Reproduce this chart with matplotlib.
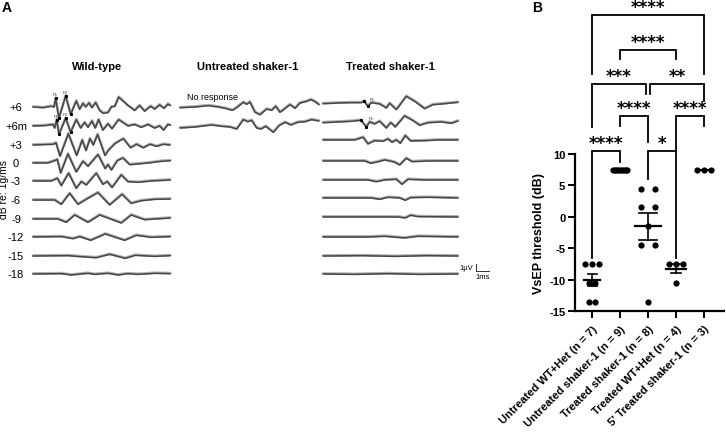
import numpy as np
import matplotlib
matplotlib.use("Agg")
import matplotlib.pyplot as plt

plt.rcParams['font.family'] = ['Liberation Sans', 'DejaVu Sans']
plt.rcParams['axes.unicode_minus'] = False

# ---------------- panel A data: VsEP waveforms (ms, uV) ----------------
levels = ["+6", "+6m", "+3", "0", "-3", "-6", "-9", "-12", "-15", "-18"]

wt_t = [
    [0, 0.77, 1.41, 1.62, 1.74, 2.0, 2.51, 2.9, 3.33, 3.59, 3.85, 4.05, 4.31, 4.54, 4.82, 5.13, 5.4, 5.77, 6.03, 6.3, 6.59, 7.31, 7.82, 8.2, 8.59, 9.05, 9.36, 9.74, 10.08, 10.38, 10.56],
    [0, 0.9, 1.54, 1.67, 1.82, 2.0, 2.51, 2.9, 3.33, 3.67, 3.97, 4.23, 4.54, 4.79, 5.05, 5.38, 5.77, 6.08, 6.59, 7.31, 7.82, 8.33, 8.85, 9.36, 9.74, 10.05, 10.38, 10.56],
    [0, 0.79, 1.56, 1.77, 2.08, 2.72, 3.36, 3.79, 4.08, 4.38, 4.64, 4.97, 5.54, 5.79, 6.31, 6.95, 7.51, 7.97, 8.49, 9.0, 9.51, 10.03, 10.54],
    [0, 1.15, 1.67, 1.87, 2.13, 2.69, 3.33, 3.85, 4.23, 5.0, 5.56, 5.77, 6.03, 6.49, 6.92, 7.44, 8.08, 8.85, 9.87, 10.56],
    [0, 1.41, 1.87, 2.18, 2.74, 3.33, 3.72, 4.1, 4.87, 5.38, 5.72, 6.08, 6.79, 7.31, 8.08, 9.1, 10.56],
    [0, 1.67, 2.18, 2.82, 3.46, 4.1, 5.0, 5.9, 6.85, 7.56, 8.33, 9.36, 10.56],
    [0, 1.92, 2.56, 3.21, 4.23, 5.13, 6.79, 7.56, 8.59, 10.56],
    [0, 2.18, 3.08, 3.59, 4.44, 5.56, 7.05, 7.95, 9.1, 10.56],
    [0, 2.69, 3.72, 4.87, 5.9, 7.1, 7.87, 9.36, 10.56],
    [0, 2.18, 2.95, 4.23, 4.74, 5.77, 6.54, 7.31, 8.08, 9.36, 10.56],
]
wt_v = [
    [0, -0.1, 0.1, 0.0, 1.24, -1.62, 1.57, -1.05, 0.86, -0.33, 0.52, 0.0, 0.57, -0.1, 0.62, -0.5, -0.9, -0.8, 0.0, 0.1, 1.4, 0.2, -0.5, 0.2, -0.6, 0.1, -0.3, 0.3, -0.2, 0.4, 0.2],
    [0, 0.05, 0.2, -0.3, 0.9, -1.2, 1.1, -0.9, 0.9, -0.3, 0.5, -0.2, 0.7, -0.3, 0.9, -0.6, 0.3, -0.4, 0.9, 0.0, 0.2, -0.2, 0.2, -0.3, 0.0, -0.6, 0.2, 0.1],
    [0, 0.05, 0.1, 0.3, -1.6, 1.6, -1.5, 0.7, -0.8, 0.9, 0.0, 1.5, -1.5, -0.8, 0.2, 0.9, -0.4, 0.1, -0.4, 0.1, -0.2, 0.1, 0.0],
    [0, 0, 0.33, 0.5, -1.43, 1.29, -1.29, 0.24, -0.48, 1.19, -0.81, -0.24, -1.0, 0.33, 0.71, -0.24, -0.14, 0, 0.24, 0.33],
    [0, 0, 0.38, -0.67, 1.1, -1.05, -0.1, -0.57, 1.1, -0.48, -0.1, -0.95, 0.86, -0.1, -0.19, 0, 0.14],
    [0, 0, -0.62, 0.95, -0.62, 0.1, 1.05, -0.71, 0.81, -0.48, -0.1, 0.1, 0.14],
    [0, 0, -0.48, 0.57, -0.48, 0.57, -0.57, 0.57, -0.1, 0.14],
    [0, 0.05, -0.24, 0.05, -0.48, 0.43, -0.48, 0.24, -0.05, 0.05],
    [0, 0.05, -0.1, -0.24, 0.24, -0.33, 0.1, -0.05, 0.05],
    [0, 0.05, -0.14, 0.1, -0.05, 0.1, -0.14, 0.05, -0.05, 0.1, 0.05],
]

un_t = [
    [0, 1.15, 2.18, 2.95, 3.46, 4.03, 4.36, 4.87, 5.13, 5.38, 5.77, 6.15, 6.67, 7.05, 7.36, 7.69, 8.03, 8.46, 8.85, 9.23, 9.67, 10.08, 10.38, 10.69],
    [0, 1.15, 2.44, 3.21, 3.85, 4.36, 4.87, 5.21, 5.51, 5.9, 6.23, 6.59, 6.92, 7.18, 7.62, 8.08, 8.54, 9.05, 9.62, 10.13, 10.69],
]
un_v = [
    [-0.1, 0, 0.19, 0, -0.19, -0.48, -0.1, 0.67, 0.38, 0.71, -0.76, -1.1, -0.29, -0.48, 0.1, -0.76, -0.29, 0.33, -0.19, 0.57, 0.76, 1.05, 0.76, 0.33],
    [-0.14, 0, 0.29, 0.1, 0, -0.29, 1.05, 0.76, 0.95, -0.14, -0.29, 0.1, -0.38, -0.76, 0.19, 0.67, 0.29, 0.67, 0.76, 1.05, 0.86],
]

tr_t = [
    [0, 1.15, 2.18, 2.95, 3.15, 3.46, 3.72, 4.36, 4.87, 5.13, 5.64, 6.41, 7.05, 7.82, 8.46, 9.36, 10.38],
    [0, 1.15, 2.18, 2.9, 3.33, 3.59, 3.97, 4.36, 4.87, 5.21, 5.56, 6.28, 6.92, 7.44, 8.08, 9.1, 9.87, 10.38],
    [0, 2.44, 3.08, 3.46, 3.97, 4.62, 5.0, 5.31, 5.64, 5.95, 6.33, 6.74, 7.82, 8.85, 10.38],
    [0, 3.21, 3.67, 4.18, 4.74, 5.46, 5.9, 6.41, 6.85, 8.08, 10.38],
    [0, 3.46, 4.1, 4.74, 5.64, 6.08, 6.54, 7.82, 10.38],
    [0, 3.72, 4.36, 5.0, 5.9, 6.33, 6.74, 8.08, 10.38],
    [0, 5.77, 6.33, 6.74, 7.31, 10.38],
    [0, 3.46, 4.74, 6.28, 7.31, 10.38],
    [0, 3.0, 5.5, 8.0, 10.38],
    [0, 2.5, 5.0, 7.5, 10.38],
]
tr_v = [
    [-0.1, 0, 0.05, 0.05, 0.24, -0.48, 0.05, -0.14, -0.71, -0.05, -0.95, 0.95, 0.24, -0.81, -0.24, -0.1, 0.1],
    [-0.1, 0, 0.1, 0.24, -0.71, 0, -0.29, 0.1, -0.86, -0.1, -0.71, 0.86, 0.19, -0.48, -0.1, 0, -0.19, 0.14],
    [0, 0, 0.38, -0.57, -0.1, -0.19, 0.14, -0.33, 0, -0.48, 0.62, -0.14, -0.1, 0, 0],
    [0, 0, -0.33, -0.14, 0.14, -0.14, -0.57, 0.38, -0.1, 0, 0],
    [0, 0, -0.24, 0, 0.1, -0.62, 0.1, 0, 0],
    [0, 0, -0.19, 0.1, 0, -0.33, 0.05, 0.1, 0],
    [0, 0, -0.14, 0.24, 0.05, 0],
    [0, 0, 0.1, -0.14, 0.1, 0],
    [0, 0.05, -0.05, 0.05, 0],
    [0, -0.05, 0.05, -0.05, 0],
]

# peak markers (ms) on the top two traces
wt_marks = [[1.74, 2.0, 2.51, 2.9], [1.82, 2.0, 2.51, 2.9]]
tr_marks = [[3.15, 3.46], [2.9, 3.33]]

# ---------------- panel B data: thresholds (dB) ----------------
groups = ["Untreated WT+Het (n = 7)", "Untreated shaker-1 (n = 9)",
          "Treated shaker-1 (n = 8)", "Treated WT+Het (n = 4)",
          "5' Treated shaker-1 (n = 3)"]
thresholds = [
    [-7.5, -7.5, -7.5, -10.5, -10.5, -13.5, -13.5],
    [7.5, 7.5, 7.5, 7.5, 7.5, 7.5, 7.5, 7.5, 7.5],
    [4.5, 4.5, 1.5, 1.5, -1.5, -4.5, -4.5, -13.5],
    [-7.5, -7.5, -7.5, -10.5],
    [7.5, 7.5, 7.5],
]
# (group a, group b, significance)
comparisons = [(0, 1, "****"), (2, 3, "*"), (1, 2, "****"), (3, 4, "****"),
               (0, 2, "***"), (2, 4, "**"), (1, 3, "****"), (0, 4, "****")]

# ---------------- layout ----------------
W, H = 726, 435
fig = plt.figure(figsize=(W / 100, H / 100), dpi=100)

# panel A: one axes over the figure, 13 px per ms and 7 px per uV
axA = fig.add_axes([0, 0, 1, 1])
axA.set_xlim(-33 / 13, (W - 33) / 13)
axA.set_ylim((108 - H) / 7, 108 / 7)
axA.axis('off')

col_x = [0.0, 11.31, 22.31]
wt_rows = [0, -2.71, -5.43, -8.0, -10.57, -13.29, -16.0, -18.57, -21.29, -23.86]
un_rows = [0, -2.86]
tr_rows = [0.57, -2.14, -4.71, -7.71, -10.43, -13.0, -15.71, -18.57, -21.29, -23.86]
LIGHT, DARK = '#b0b0b0', '#454545'


def draw_traces(ts, vs, x0, rows):
    for t, v, r in zip(ts, vs, rows):
        t = np.array(t) + x0
        v = np.array(v) + r
        axA.plot(t, v + 0.08, color=LIGHT, lw=1.9, solid_joinstyle='round', solid_capstyle='round')
        axA.plot(t, v, color=DARK, lw=1.1, solid_joinstyle='round', solid_capstyle='round')


draw_traces(wt_t, wt_v, col_x[0], wt_rows)
draw_traces(un_t, un_v, col_x[1], un_rows)
draw_traces(tr_t, tr_v, col_x[2], tr_rows)

for marks, ts, vs, x0, rows in [(wt_marks, wt_t, wt_v, col_x[0], wt_rows),
                                 (tr_marks, tr_t, tr_v, col_x[2], tr_rows)]:
    for k, m in enumerate(marks):
        mv = np.interp(m, ts[k], vs[k]) + rows[k]
        axA.plot(np.array(m) + x0, mv, 's', color='black', ms=1.2, zorder=5)
        if len(m) == 4:
            axA.text(m[0] + x0, mv[0] + 0.45, "P1", fontsize=3, ha='center', color='#333333')
            axA.text(m[2] + x0, mv[2] + 0.45, "P2", fontsize=3, ha='center', color='#333333')
        else:
            axA.text(m[1] + x0 + 0.15, mv[0] + 0.2, "P1", fontsize=3, ha='left', color='#333333')

for lab, r in zip(levels, wt_rows):
    axA.text(-1.31, r, lab, fontsize=8, ha='center', va='center')

axA.text(-2.25, -11.6, "dB re: 1g/ms", rotation=90, fontsize=7.5, ha='center', va='center')

title_y = 5.86
axA.text(4.96, title_y, "Wild-type", fontsize=8, fontweight='bold', ha='center', va='center')
axA.text(16.54, title_y, "Untreated shaker-1", fontsize=8, fontweight='bold', ha='center', va='center')
axA.text(27.46, title_y, "Treated shaker-1", fontsize=8, fontweight='bold', ha='center', va='center')
axA.text(11.85, 1.43, "No response", fontsize=6.5, ha='left', va='center')

# scale bar 1 uV / 1 ms
sx, sy = 34.08, -23.43
axA.plot([sx, sx, sx + 1], [sy + 1, sy, sy], color='#333333', lw=0.7)
axA.text(sx - 0.25, sy + 0.55, "1μV", fontsize=5.5, ha='right', va='center')
axA.text(sx + 0.5, sy - 0.85, "1ms", fontsize=5.5, ha='center', va='center')

fig.text(2 / W, 1 - 8 / H, "A", fontsize=10, fontweight='bold', ha='left', va='center')
fig.text(532 / W, 1 - 8 / H, "B", fontsize=10, fontweight='bold', ha='left', va='center')

# panel B
axB = fig.add_axes([575 / W, (H - 312) / H, 149 / W, 157 / H])
axB.set_xlim(-0.61, 4.71)
axB.set_ylim(-15, 10)
for s in ['top', 'right']:
    axB.spines[s].set_visible(False)
for s in ['left', 'bottom']:
    axB.spines[s].set_linewidth(1.6)

swarm_step = [0.24, 0.065, 0.48, 0.24, 0.24]
mean_w = [0.6, 0.6, 0.9, 0.7, 0.6]
cap_w = [0.32, 0.32, 0.65, 0.35, 0.32]
for i, vals in enumerate(thresholds):
    vals = np.array(vals)
    xs = np.zeros(len(vals))
    for u in np.unique(vals):
        idx = np.where(vals == u)[0]
        xs[idx] = i + (np.arange(len(idx)) - (len(idx) - 1) / 2) * swarm_step[i]
    axB.scatter(xs, vals, s=20, color='black', zorder=3, clip_on=False, linewidths=0)
    m = vals.mean()
    sem = vals.std(ddof=1) / np.sqrt(len(vals))
    axB.plot([i - mean_w[i] / 2, i + mean_w[i] / 2], [m, m], color='black', lw=1.6, zorder=4)
    if sem > 0:
        axB.plot([i, i], [m - sem, m + sem], color='black', lw=1.2, zorder=4)
        for yy in (m - sem, m + sem):
            axB.plot([i - cap_w[i] / 2, i + cap_w[i] / 2], [yy, yy], color='black', lw=1.2, zorder=4)

# bracket geometry: (x left, x right, height, left leg bottom, right leg bottom)
brackets = [(0, 1, 10.5, -6.5, 8.7), (2, 3, 10.5, 6.0, -6.5),
            (1, 2, 16.0, 14.4, 11.9), (3, 4, 16.0, 10.5, 14.5),
            (0, 1.92, 21.1, 14.3, 19.5), (2.08, 4, 21.1, 19.5, 18.5),
            (1, 3, 26.6, 25.1, 25.1), (0, 4, 32.1, 22.7, 22.7)]
for (xa, xb, yb, la, lb), (_, _, star) in zip(brackets, comparisons):
    axB.plot([xa, xa, xb, xb], [la, yb, yb, lb], color='black', lw=1.3,
             clip_on=False, solid_joinstyle='miter')
    axB.text((xa + xb) / 2, yb + 0.5, star, fontsize=12, fontweight='bold',
             family='DejaVu Sans', ha='center', va='baseline')

axB.set_yticks([-15, -10, -5, 0, 5, 10])
axB.set_yticklabels(["-15", "-10", "-5", "0", "5", "10"])
axB.set_xticks(range(len(groups)))
axB.set_xticklabels(groups, rotation=45, ha='right', va='top', rotation_mode='anchor')
axB.tick_params(axis='both', width=1.4, length=5, pad=2)
axB.tick_params(axis='y', labelsize=8)
axB.tick_params(axis='x', labelsize=8, pad=4)
for lab in axB.get_xticklabels() + axB.get_yticklabels():
    lab.set_fontweight('bold')
axB.set_ylabel("VsEP threshold (dB)", fontsize=9, fontweight='bold', labelpad=3)

fig.savefig("out.png", dpi=100)
